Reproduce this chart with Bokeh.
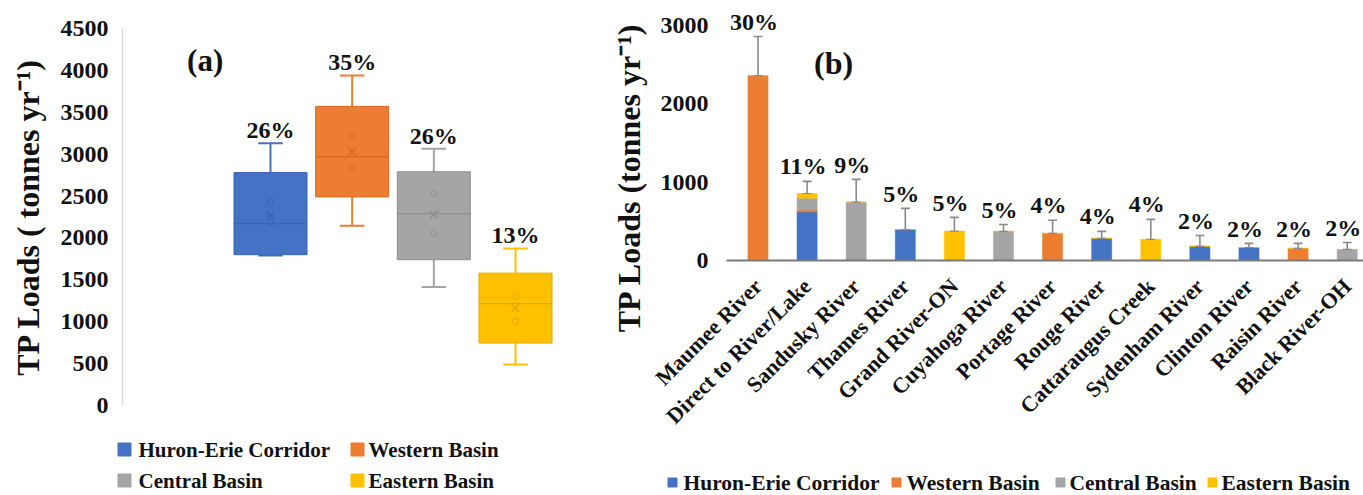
import math
from bokeh.plotting import figure
from bokeh.models import Range1d, FixedTicker, ColumnDataSource
from bokeh.layouts import row, column
from bokeh.embed import file_html
from bokeh.resources import INLINE
from bokeh.core.properties import value

FONT = "Liberation Serif"

# ---------------- data: panel (a) ----------------
basins = ["Huron-Erie Corridor", "Western Basin", "Central Basin", "Eastern Basin"]
basin_colors = ["#4472C4", "#ED7D31", "#A5A5A5", "#FFC000"]
basin_dark = ["#3563B5", "#D8691F", "#8F8F8F", "#E3A800"]
box_lower_whisker = [1790, 2145, 1415, 490]
box_q1 = [1800, 2490, 1740, 745]
box_median = [2170, 2970, 2290, 1215]
box_q3 = [2780, 3570, 2790, 1580]
box_upper_whisker = [3130, 3940, 3065, 1875]
box_mean = [2265, 3030, 2280, 1165]
box_points = [[2430, 2180], [3220, 2840], [2530, 2060], [1300, 1005]]
basin_share = ["26%", "35%", "26%", "13%"]

# ---------------- data: panel (b) ----------------
rivers = ["Maumee River", "Direct to River/Lake", "Sandusky River", "Thames River",
          "Grand River-ON", "Cuyahoga River", "Portage River", "Rouge River",
          "Cattaraugus Creek", "Sydenham River", "Clinton River", "Raisin River",
          "Black River-OH"]
huron_load = [0, 620, 0, 395, 0, 0, 0, 282, 0, 180, 166, 0, 0]
western_load = [2360, 25, 0, 0, 0, 0, 346, 0, 0, 0, 0, 154, 0]
central_load = [0, 150, 745, 0, 0, 372, 0, 0, 0, 0, 0, 0, 141]
eastern_load = [0, 60, 0, 0, 375, 0, 0, 0, 270, 0, 0, 0, 0]
river_err_top = [2860, 1010, 1035, 665, 550, 460, 513, 372, 525, 320, 218, 218, 230]
river_share = ["30%", "11%", "9%", "5%", "5%", "5%", "4%", "4%", "4%", "2%", "2%", "2%", "2%"]

ticks_a = [0, 500, 1000, 1500, 2000, 2500, 3000, 3500, 4000, 4500]
ticks_b = [0, 1000, 2000, 3000]
label_a = "TP Loads ( tonnes yr\u207b\u00b9)"
label_b = "TP Loads (tonnes yr\u207b\u00b9)"

TXT = "#111111"


def bold_text(size):
    return dict(text_font=value(FONT), text_font_style="bold", text_font_size=size,
                text_color=TXT)


def style_axis(ax, ticks, standoff, label, label_standoff, tick_size="24px"):
    ax.ticker = FixedTicker(ticks=ticks)
    ax.major_tick_line_color = None
    ax.minor_tick_line_color = None
    ax.major_tick_out = 0
    ax.major_tick_in = 0
    ax.major_label_standoff = standoff
    ax.major_label_text_font = FONT
    ax.major_label_text_font_style = "bold"
    ax.major_label_text_font_size = tick_size
    ax.major_label_text_color = TXT
    if label is not None:
        ax.axis_label = label
        ax.axis_label_text_font = FONT
        ax.axis_label_text_font_style = "bold"
        ax.axis_label_text_font_size = "32px"
        ax.axis_label_text_color = TXT
        ax.axis_label_standoff = label_standoff


def bare_figure(width, height, flip=True):
    f = figure(width=width, height=height, output_backend="svg", toolbar_location=None,
               x_range=Range1d(0, width),
               y_range=Range1d(height, 0) if flip else Range1d(0, height),
               x_axis_location=None, y_axis_location=None, min_border=0)
    f.outline_line_color = None
    f.grid.visible = False
    return f


def legend_figure(width, height, names, colors, sq_x, tx_x, rows_y, sq_size, txt_size):
    """A bare strip (frame == canvas, pixel ranges) holding a legend."""
    f = bare_figure(width, height)
    f.scatter(x=sq_x, y=rows_y, marker="square", size=sq_size, fill_color=colors,
              line_color=colors)
    f.text(x=tx_x, y=rows_y, text=names, text_align="left", text_baseline="middle",
           **bold_text(txt_size))
    return f


# ================= panel (a) =================
pa = figure(width=598, height=432, output_backend="svg", toolbar_location=None,
            x_range=Range1d(-0.812, 5.016), y_range=Range1d(0, 4500),
            x_axis_location=None, min_border_left=122, min_border_right=0,
            min_border_top=28, min_border_bottom=27)
pa.outline_line_color = None
pa.grid.visible = False
ya = pa.yaxis[0]
style_axis(ya, ticks_a, 14, label_a, 12)
ya.axis_line_color = "#D9D9D9"
ya.axis_line_width = 1.5

xs = [i + 1 for i in range(len(basins))]
bw = 0.894
cap = 0.15
src_a = ColumnDataSource(dict(x=xs, q1=box_q1, q3=box_q3, med=box_median,
                              lw=box_lower_whisker, uw=box_upper_whisker,
                              mean=box_mean, color=basin_colors, dark=basin_dark,
                              left=[x - bw / 2 for x in xs], right=[x + bw / 2 for x in xs],
                              cl=[x - cap for x in xs], cr=[x + cap for x in xs],
                              lab_y=[u + 155 for u in box_upper_whisker],
                              share=basin_share))
pa.segment(x0="x", y0="q3", x1="x", y1="uw", source=src_a, line_color="color", line_width=2)
pa.segment(x0="x", y0="q1", x1="x", y1="lw", source=src_a, line_color="color", line_width=2)
pa.segment(x0="cl", y0="uw", x1="cr", y1="uw", source=src_a, line_color="color", line_width=2)
pa.segment(x0="cl", y0="lw", x1="cr", y1="lw", source=src_a, line_color="color", line_width=2)
pa.vbar(x="x", width=bw, top="q3", bottom="q1", source=src_a, fill_color="color",
        line_color="dark", line_width=1)
pa.segment(x0="left", y0="med", x1="right", y1="med", source=src_a, line_color="dark",
           line_width=1.2)
pa.scatter(x="x", y="mean", source=src_a, marker="x", size=11, line_color="dark",
           line_width=1.5)
px, py, pc = [], [], []
for i, pts in enumerate(box_points):
    for v in pts:
        px.append(xs[i]); py.append(v); pc.append(basin_dark[i])
pa.scatter(x=px, y=py, marker="circle", size=6, fill_color=None, line_color=pc,
           line_width=1)
pa.text(x="x", y="lab_y", text="share", source=src_a, text_align="center",
        text_baseline="middle", **bold_text("24px"))
pa.text(x=[0.2], y=[4117], text=["(a)"], text_align="center", text_baseline="middle",
        **bold_text("31px"))

# legend (a): two rows, two columns
la = legend_figure(598, 63, basins, basin_colors,
                   sq_x=[124, 357, 124, 357], tx_x=[138, 368, 138, 368],
                   rows_y=[17, 17, 48, 48], sq_size=13, txt_size="21px")

# ================= panel (b) y-axis title strip =================
strip = bare_figure(50, 495, flip=False)
strip.text(x=[30], y=[318], text=[label_b], angle=math.pi / 2, text_align="center",
           text_baseline="middle", **bold_text("32px"))

# ================= panel (b) =================
pb = figure(width=715, height=462, output_backend="svg", toolbar_location=None,
            x_range=Range1d(-0.6415, 12.332), y_range=Range1d(0, 3204),
            min_border_left=78, min_border_right=0, min_border_top=9,
            min_border_bottom=202)
pb.outline_line_color = None
pb.grid.visible = False
yb = pb.yaxis[0]
style_axis(yb, ticks_b, 18, None, 0)
yb.axis_line_color = None

xb = pb.xaxis[0]
idx = list(range(len(rivers)))
style_axis(xb, idx, 22, None, 0, tick_size="22px")
xb.major_label_overrides = {i: n for i, n in enumerate(rivers)}
xb.major_label_orientation = math.pi / 4
xb.axis_line_color = "#7A7A7A"
xb.axis_line_width = 2

totals = [h + w + c + e for h, w, c, e in zip(huron_load, western_load, central_load, eastern_load)]
src_b = ColumnDataSource(dict(x=idx, h=huron_load, w=western_load, c=central_load,
                              e=eastern_load, tot=totals, err=river_err_top,
                              cl=[i - 0.09 for i in idx], cr=[i + 0.09 for i in idx],
                              lab_y=[v + 190 for v in river_err_top], share=river_share))
pb.vbar_stack(["h", "w", "c", "e"], x="x", width=0.41, source=src_b,
              fill_color=basin_colors, line_color=basin_colors, line_width=0.5)
pb.segment(x0="x", y0="tot", x1="x", y1="err", source=src_b, line_color="#8A8A8A",
           line_width=1.6)
pb.segment(x0="cl", y0="err", x1="cr", y1="err", source=src_b, line_color="#8A8A8A",
           line_width=1.6)
pb.segment(x0="cl", y0="tot", x1="cr", y1="tot", source=src_b, line_color="#8A8A8A",
           line_width=1.2)
pb.text(x="x", y="lab_y", text="share", source=src_b, text_align="center",
        text_baseline="middle", x_offset=-4, **bold_text("24px"))
pb.text(x=[1.54], y=[2515], text=["(b)"], text_align="center", text_baseline="middle",
        **bold_text("32px"))

# legend (b): one row
lb = legend_figure(715, 33, basins, basin_colors,
                   sq_x=[24, 248, 412, 564], tx_x=[35, 258, 421, 573],
                   rows_y=[20] * 4, sq_size=9, txt_size="21.5px")

layout = row(column(row(pa), row(la)), column(row(strip)), column(row(pb), row(lb)))
open("out.html", "w").write(file_html(layout, INLINE))
